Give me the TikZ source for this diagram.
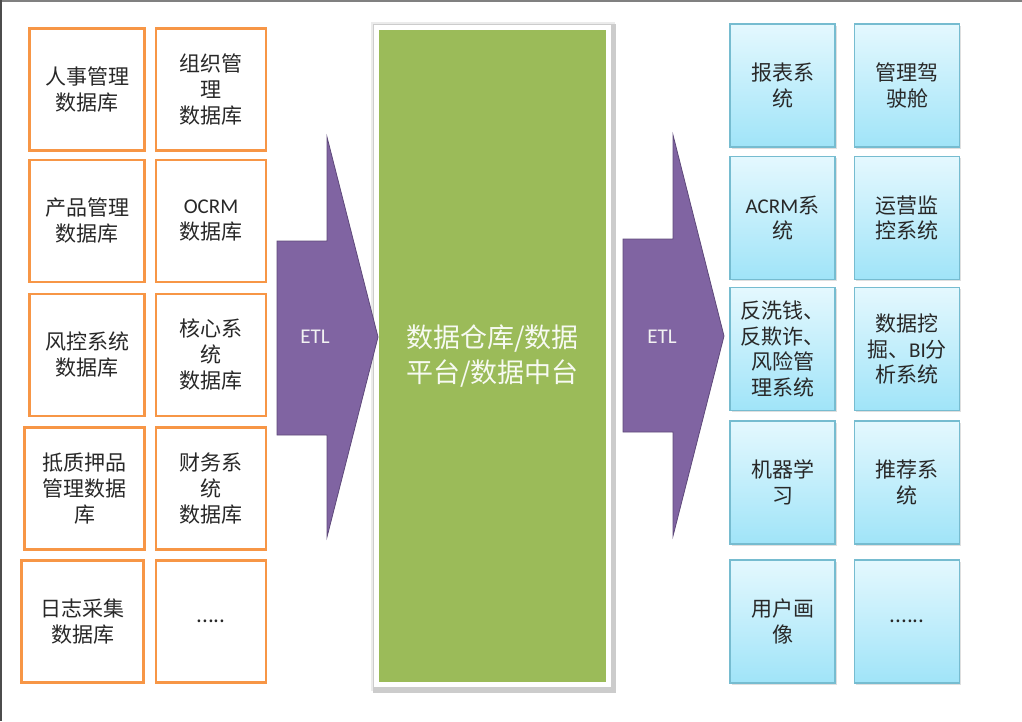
\documentclass[tikz,border=0pt]{standalone}
\usepackage{fontspec}
\setmainfont{Noto Sans CJK SC}
\newfontfamily\latinfont{Carlito}
\usetikzlibrary{shadows, backgrounds}
\definecolor{srcorange}{RGB}{247,150,70}
\definecolor{dwgreen}{RGB}{155,187,89}
\definecolor{etlpurple}{RGB}{128,100,162}
\definecolor{etlborder}{RGB}{94,73,122}
\definecolor{apptop}{RGB}{228,248,254}
\definecolor{appbottom}{RGB}{160,228,248}
\definecolor{appborder}{RGB}{118,188,208}
\definecolor{boxtext}{RGB}{40,40,40}

\begin{document}
\begin{tikzpicture}[x=1pt, y=-1pt,
    srcbox/.style={draw=srcorange, line width=2.6pt, fill=white, minimum height=122pt,
        inner sep=0pt, align=center, text=boxtext, font=\fontsize{21}{26}\selectfont},
    appbox/.style={draw=appborder, line width=1.2pt, top color=apptop, bottom color=appbottom,
        minimum width=105pt, minimum height=123pt, inner sep=0pt, align=center, text=boxtext,
        font=\fontsize{21}{25.5}\selectfont,
        drop shadow={opacity=0.25, shadow xshift=1.5pt, shadow yshift=-1.5pt}},
    etlarrow/.style={fill=etlpurple, draw=etlborder, line width=0.8pt},
    etllabel/.style={text=white!95!black, font=\latinfont\fontsize{21}{24}\selectfont}]
    \useasboundingbox (0,0) rectangle (1022,721);

    % edges of the screenshot
    \draw[gray, line width=1.5pt] (0,0.75) -- (1022,0.75);
    \draw[black!70, line width=1.5pt] (0.75,0) -- (0.75,721);

    % source databases
    \node[srcbox, minimum width=115pt] (hr) at (87,89.5) {人事管理\\数据库};
    \node[srcbox, minimum width=110pt] (org) at (211,89.5) {组织管\\理\\数据库};
    \node[srcbox, minimum width=115pt] (prod) at (87,221) {产品管理\\数据库};
    \node[srcbox, minimum width=110pt] (ocrm) at (211,221) {{\latinfont OCRM}\\数据库};
    \node[srcbox, minimum width=115pt] (risk) at (87,355) {风控系统\\数据库};
    \node[srcbox, minimum width=110pt] (core) at (211,355) {核心系\\统\\数据库};
    \node[srcbox, minimum width=120pt] (pledge) at (84.5,488.5) {抵质押品\\管理数据\\库};
    \node[srcbox, minimum width=110pt] (fin) at (211,488.5) {财务系\\统\\数据库};
    \node[srcbox, minimum width=122pt] (log) at (82.5,621.5) {日志采集\\数据库};
    \node[srcbox, minimum width=110pt] (srcmore) at (211,621.5) {.....};

    % data warehouse
    \node[draw=white, line width=5pt, fill=dwgreen, minimum width=232pt, minimum height=657pt,
        inner sep=0pt, align=center, text=white!92!dwgreen,
        font=\fontsize{27}{35}\selectfont] (dw) at (492.5,356) {数据仓库/数据\\平台/数据中台};
    \begin{scope}[on background layer]
        \fill[black!8] ([shift={(-3.5,-3.5)}]dw.north west) rectangle ([shift={(3.5,3.5)}]dw.south east);
        \fill[black!20] ([shift={(-1,-1)}]dw.north west) rectangle ([shift={(5,5.5)}]dw.south east);
    \end{scope}

    % ETL arrows
    \path[etlarrow] (277,241) -- (327,241) -- (327,137) -- (378,337) -- (327,537) -- (327,435) -- (277,435) -- cycle;
    \node[etllabel] (etlin) at (315,337) {ETL};
    \path[etlarrow] (623,239) -- (673,239) -- (673,135) -- (724,336) -- (673,536) -- (673,432) -- (623,432) -- cycle;
    \node[etllabel] (etlout) at (662,337) {ETL};

    % applications
    \node[appbox] (report) at (782.5,85.5) {报表系\\统};
    \node[appbox] (cockpit) at (907,85.5) {管理驾\\驶舱};
    \node[appbox] (acrm) at (782.5,218) {{\latinfont ACRM}系\\统};
    \node[appbox] (ops) at (907,218) {运营监\\控系统};
    \node[appbox] (aml) at (782.5,349) {反洗钱、\\反欺诈、\\风险管\\理系统};
    \node[appbox] (mining) at (907,349) {数据挖\\掘、{\latinfont BI}分\\析系统};
    \node[appbox] (ml) at (782.5,482.5) {机器学\\习};
    \node[appbox] (recom) at (907,482.5) {推荐系\\统};
    \node[appbox] (profile) at (782.5,621.5) {用户画\\像};
    \node[appbox] (appmore) at (907,621.5) {......};
\end{tikzpicture}
\end{document}
